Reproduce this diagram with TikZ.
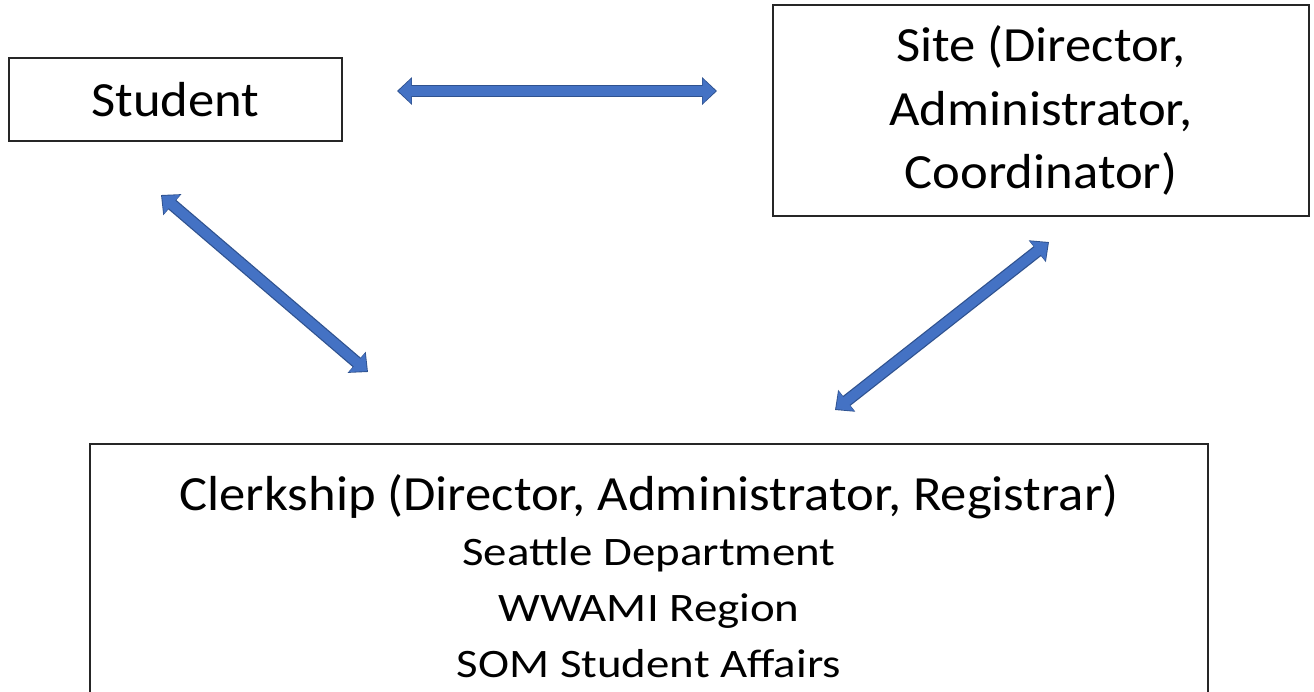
\documentclass[tikz,border=0pt]{standalone}
\usepackage{fontspec}
\setmainfont{Carlito}
\newfontfamily\headfamily[FakeStretch=1.07]{Carlito}
\newfontfamily\listfamily[FakeStretch=1.16]{Carlito}
\usetikzlibrary{arrows.meta}
\definecolor{arrowfill}{HTML}{4472C4}
\definecolor{arrowedge}{HTML}{2F528F}
\newcommand{\boxfont}{\headfamily\fontsize{28}{36.2}\selectfont}
\newcommand{\subfont}{\listfamily\fontsize{23}{31.8}\selectfont}

\begin{document}
\begin{tikzpicture}[
        x=0.02cm, y=-0.02cm,
        box/.style={draw=black!85, line width=1.1pt, inner sep=0pt, align=center},
        twoway/.style={line width=5.6pt, draw=arrowfill,
            shorten >=0.8pt, shorten <=0.8pt,
            {Triangle[width=13.6pt,length=7.4pt]}-{Triangle[width=13.6pt,length=7.4pt]},
            preaction={draw=arrowedge, line width=7pt,
                shorten >=0pt, shorten <=0pt,
                {Triangle[width=15.3pt,length=8.5pt]}-{Triangle[width=15.3pt,length=8.5pt]}}},
    ]
    \useasboundingbox (0,0) rectangle (1314,691);
    \clip (0,0) rectangle (1314,691);

    % boxes
    \node[box, font=\boxfont, minimum width=6.66cm, minimum height=1.66cm]
        (student) at (175.5,99.5) {Student};
    \node[box, font=\boxfont, minimum width=10.72cm, minimum height=4.22cm]
        (site) at (1041,110.5) {\raisebox{-3pt}{\parbox{8cm}{\centering Site (Director,\\Administrator,\\Coordinator)}}};
    \node[box, font=\subfont, minimum width=22.36cm, minimum height=5.28cm]
        (clerkship) at (649,576)
        {{\headfamily\fontsize{28}{31.8}\selectfont Clerkship (Director, Administrator, Registrar)}\\
         Seattle Department\\
         WWAMI Region\\
         SOM Student Affairs};

    % arrow ends
    \coordinate (stusiteA) at (397,91);
    \coordinate (stusiteB) at (717,91);
    \coordinate (stuclerkA) at (161,195);
    \coordinate (stuclerkB) at (368,372);
    \coordinate (siteclerkA) at (835,410);
    \coordinate (siteclerkB) at (1049,242);

    % two-way arrows
    \draw[twoway] (stusiteA) -- (stusiteB);
    \draw[twoway] (stuclerkA) -- (stuclerkB);
    \draw[twoway] (siteclerkA) -- (siteclerkB);
\end{tikzpicture}
\end{document}
